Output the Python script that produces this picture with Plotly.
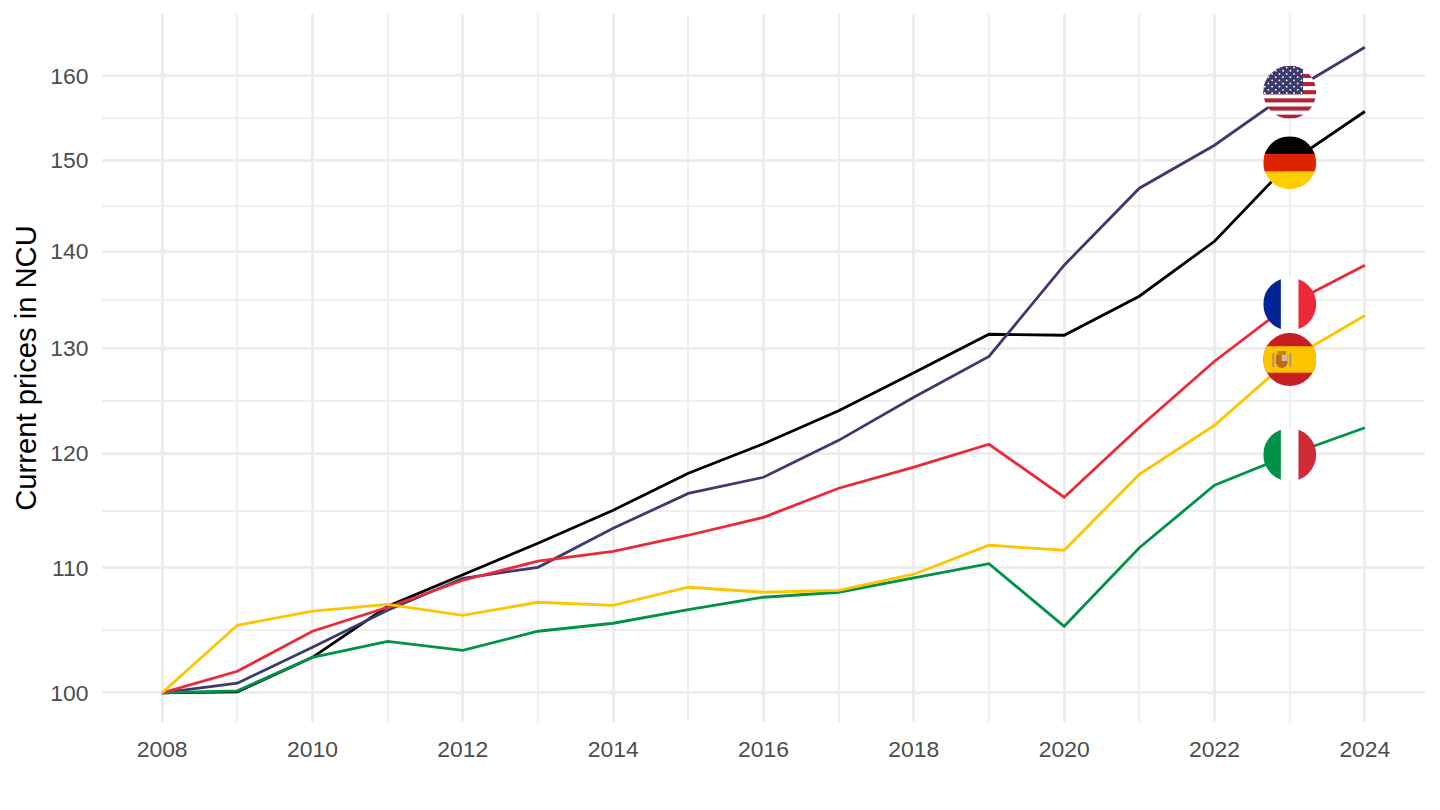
import base64
import math
import plotly.graph_objects as go

years = list(range(2008, 2025))
germany = [100, 100.08, 102.74, 106.81, 109.41, 112.06, 114.92, 118.2, 120.89, 123.97, 127.6, 131.4, 131.3, 135.26, 141.04, 149.75, 155.7]
usa = [100, 100.73, 103.53, 106.49, 109.11, 110.03, 113.35, 116.4, 117.84, 121.2, 125.25, 129.2, 138.5, 146.86, 151.75, 158.0, 163.5]
france = [100, 101.65, 104.8, 106.73, 108.95, 110.54, 111.38, 112.75, 114.3, 116.86, 118.75, 120.84, 116.06, 122.42, 128.73, 134.45, 138.5]
spain = [100, 105.28, 106.41, 106.97, 106.08, 107.14, 106.89, 108.37, 107.96, 108.12, 109.45, 111.89, 111.47, 118.11, 122.6, 128.9, 133.3]
italy = [100, 100.15, 102.74, 104.0, 103.29, 104.8, 105.44, 106.53, 107.55, 107.96, 109.15, 110.33, 105.2, 111.68, 117.13, 119.88, 122.37]

major_y = [100, 110, 120, 130, 140, 150, 160]
minor_y = [104.88, 114.89, 124.9, 134.91, 144.91, 154.92]
major_x = list(range(2008, 2025, 2))
minor_x = list(range(2009, 2025, 2))
flag_year = 2023


def uri(body):
    svg = ('<svg xmlns="http://www.w3.org/2000/svg" width="212" height="212" viewBox="0 0 100 100">'
           '<defs><clipPath id="c"><circle cx="50" cy="50" r="50"/></clipPath></defs>'
           f'<g clip-path="url(#c)">{body}</g></svg>')
    return "data:image/svg+xml;base64," + base64.b64encode(svg.encode()).decode()


def rect(x, y, w, h, c):
    return f'<rect x="{x}" y="{y}" width="{w}" height="{h}" fill="{c}"/>'


def us_flag():
    s = rect(0, 0, 100, 100, "#ffffff")
    for i in range(0, 13, 2):
        s += rect(0, i * 100 / 13, 100, 100 / 13, "#B22234")
    s += rect(0, 0, 75, 7 * 100 / 13, "#3C3B6E")
    for r in range(9):
        for c in range(11):
            if (r + c) % 2 == 0:
                s += f'<circle cx="{3 + c * 6.9:.1f}" cy="{3.5 + r * 6:.1f}" r="1.7" fill="#ffffff"/>'
    return uri(s)


def h3(a, b, c):
    return uri(rect(0, 0, 100, 34, a) + rect(0, 33.3, 100, 34, b) + rect(0, 66.6, 100, 34, c))


def v3(a, b, c):
    return uri(rect(0, 0, 34, 100, a) + rect(33.3, 0, 34, 100, b) + rect(66.6, 0, 34, 100, c))


def es_flag():
    s = rect(0, 0, 100, 100, "#C61E22") + rect(0, 25, 100, 50, "#FFC400")
    s += rect(17, 38, 4, 26, "#A89A66") + rect(49, 38, 4, 26, "#A89A66")
    s += '<path d="M24 41h22v14a11 11 0 0 1-22 0z" fill="#BF6A1C"/>'
    s += rect(35, 41, 11, 12, "#D8B4B4")
    s += rect(27, 34, 16, 7, "#B8860B")
    return uri(s)


series = [
    ("Germany", germany, "#000000", h3("#000000", "#DD2200", "#FFCE00")),
    ("United States", usa, "#3C3B6E", us_flag()),
    ("Italy", italy, "#009246", v3("#009246", "#ffffff", "#CE2B37")),
    ("France", france, "#ED2939", v3("#002395", "#ffffff", "#ED2939")),
    ("Spain", spain, "#FFC400", es_flag()),
]

fig = go.Figure()
images = []
idx = years.index(flag_year)
for name, vals, col, flag in series:
    fig.add_trace(go.Scatter(x=years, y=vals, mode="lines", name=name,
                             line=dict(color=col, width=2.8), showlegend=False))
    images.append(dict(source=flag, xref="x", yref="y", x=flag_year, y=math.log10(vals[idx]),
                       sizex=0.705, sizey=0.01753, xanchor="center", yanchor="middle",
                       sizing="contain", layer="above"))

major_grid = "#EDEDED"
minor_grid = "#EFEFEF"
fig.update_layout(
    width=1440, height=810, autosize=False,
    margin=dict(l=102.4, r=15, t=14, b=88, pad=0),
    paper_bgcolor="white", plot_bgcolor="white",
    font=dict(family="Liberation Sans, Arial, sans-serif"),
    images=images,
    xaxis=dict(range=[2007.2, 2024.8], tickmode="array", tickvals=major_x,
               ticktext=[str(v) for v in major_x], showgrid=True, gridcolor=major_grid, gridwidth=2.8,
               zeroline=False, showline=False, ticks="outside", ticklen=7, tickcolor="rgba(0,0,0,0)",
               tickfont=dict(size=22.9, color="#4D4D4D"),
               minor=dict(tickmode="array", tickvals=minor_x, showgrid=True, gridcolor=minor_grid,
                          gridwidth=1.7, ticks="")),
    yaxis=dict(type="log", range=[math.log10(97.8), math.log10(167.7)], tickmode="array",
               tickvals=major_y, ticktext=[str(v) for v in major_y], showgrid=True, gridcolor=major_grid,
               gridwidth=2.8, zeroline=False, showline=False, ticks="outside", ticklen=8,
               tickcolor="rgba(0,0,0,0)", tickfont=dict(size=22.9, color="#4D4D4D"),
               title=dict(text="Current prices in NCU", font=dict(size=29.2, color="black"), standoff=4),
               minor=dict(tickmode="array", tickvals=minor_y, showgrid=True, gridcolor=minor_grid,
                          gridwidth=1.7, ticks="")),
)
fig.write_html("out.html", config=dict(displayModeBar=False),
               post_script="document.body.style.margin='0';")
